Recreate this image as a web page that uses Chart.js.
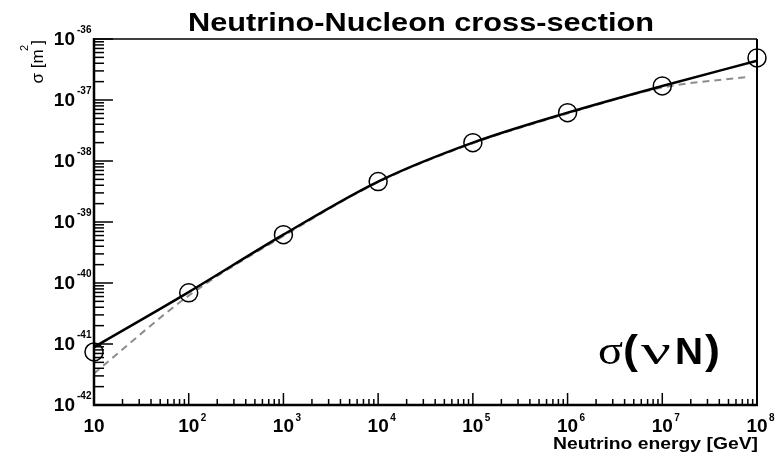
<!DOCTYPE html>
<html>
<head>
<meta charset="utf-8">
<script src="https://cdn.jsdelivr.net/npm/chart.js@4/dist/chart.umd.min.js"></script>
<style>
  body { margin: 0; background: #fff; }
  canvas { display: block; }
</style>
</head>
<body>
<canvas id="chart1" width="776" height="452"></canvas>
<script>
// neutrino energy [GeV] and sigma [m^2]
let energies = [10, 1e2, 1e3, 1e4, 1e5, 1e6, 1e7, 1e8];
let sigmaPoints = [7.4e-42, 6.9e-41, 6.2e-40, 4.6e-39, 2.0e-38, 6.2e-38, 1.7e-37, 4.9e-37];
let sigmaSolid = [8.9e-42, 7.1e-41, 6.2e-40, 4.6e-39, 2.0e-38, 6.2e-38, 1.7e-37, 4.4e-37];
let dashedEnergies = [10, 1e2, 1e3, 1e4, 1e5, 1e6, 1e7, 8e7];
let sigmaDashed = [3.3e-42, 6.2e-41, 5.9e-40, 4.5e-39, 1.95e-38, 6.0e-38, 1.6e-37, 2.4e-37];

let xTickExps = [1, 2, 3, 4, 5, 6, 7, 8];
let yTickExps = [-42, -41, -40, -39, -38, -37, -36];

function pairs(xs, ys) {
  return xs.map((x, i) => ({ x: x, y: ys[i] }));
}

const SANS = "'Liberation Sans', Arial, Helvetica, sans-serif";
const SERIF = "'Liberation Serif', 'Times New Roman', serif";

// draws text from its left edge x, stretched/squeezed to width w
function fitText(ctx, text, font, x, y, w) {
  ctx.save();
  ctx.font = font;
  ctx.textAlign = "left";
  let m = ctx.measureText(text).width;
  ctx.translate(x, y);
  ctx.scale(w / m, 1);
  ctx.fillText(text, 0, 0);
  ctx.restore();
}

// frame, inside ticks, 10^n labels and the texts around the plot
let rootFrame = {
  id: "rootFrame",
  afterDatasetsDraw(chart) {
    let ctx = chart.ctx;
    let a = chart.chartArea;
    let xs = chart.scales.x;
    let ys = chart.scales.y;
    ctx.save();
    ctx.strokeStyle = "#000";
    ctx.lineCap = "butt";

    // box
    ctx.lineWidth = 1.5;
    ctx.beginPath();
    ctx.moveTo(a.left, a.top);
    ctx.lineTo(a.right, a.top);
    ctx.stroke();
    ctx.lineWidth = 2;
    ctx.beginPath();
    ctx.moveTo(a.right, a.top);
    ctx.lineTo(a.right, a.bottom);
    ctx.stroke();
    ctx.lineWidth = 2.5;
    ctx.beginPath();
    ctx.moveTo(a.left, a.top - 1);
    ctx.lineTo(a.left, a.bottom);
    ctx.lineTo(a.right + 1, a.bottom);
    ctx.stroke();

    // y ticks
    ctx.lineWidth = 1.5;
    yTickExps.forEach((e) => {
      let py = ys.getPixelForValue(Math.pow(10, e));
      ctx.beginPath();
      ctx.moveTo(a.left, py);
      ctx.lineTo(a.left + 19, py);
      ctx.stroke();
      if (e < -36) {
        for (let k = 2; k <= 9; k++) {
          let my = ys.getPixelForValue(k * Math.pow(10, e));
          ctx.beginPath();
          ctx.moveTo(a.left, my);
          ctx.lineTo(a.left + 10, my);
          ctx.stroke();
        }
      }
    });

    // x ticks
    xTickExps.forEach((e) => {
      let px = xs.getPixelForValue(Math.pow(10, e));
      ctx.beginPath();
      ctx.moveTo(px, a.bottom);
      ctx.lineTo(px, a.bottom - 12);
      ctx.stroke();
      if (e < 8) {
        for (let k = 2; k <= 9; k++) {
          let mx = xs.getPixelForValue(k * Math.pow(10, e));
          ctx.beginPath();
          ctx.moveTo(mx, a.bottom);
          ctx.lineTo(mx, a.bottom - 6);
          ctx.stroke();
        }
      }
    });

    ctx.fillStyle = "#000";
    ctx.textBaseline = "middle";

    // y labels: 10 with exponent
    yTickExps.forEach((e) => {
      let py = ys.getPixelForValue(Math.pow(10, e));
      ctx.font = "bold 19px " + SANS;
      ctx.textAlign = "right";
      ctx.fillText("10", 75, py + 1);
      ctx.font = "bold 10px " + SANS;
      ctx.textAlign = "left";
      ctx.fillText(String(e), 77, py - 9);
    });

    // x labels
    xTickExps.forEach((e) => {
      let px = xs.getPixelForValue(Math.pow(10, e));
      ctx.font = "bold 19px " + SANS;
      ctx.textAlign = "center";
      ctx.fillText("10", px, 427);
      if (e > 1) {
        ctx.font = "bold 10px " + SANS;
        ctx.textAlign = "left";
        ctx.fillText(String(e), px + 12, 418);
      }
    });

    ctx.textBaseline = "alphabetic";

    // title
    fitText(ctx, "Neutrino-Nucleon cross-section", "bold 26px " + SANS, 188, 31, 466);

    // x axis title
    fitText(ctx, "Neutrino energy [GeV]", "bold 16px " + SANS, 553, 449, 205);

    // y axis title, rotated, ending at the top of the axis
    ctx.save();
    ctx.translate(43, 40);
    ctx.rotate(-Math.PI / 2);
    ctx.textAlign = "right";
    ctx.font = "17px " + SANS;
    ctx.fillText("\u03c3 [m ]", 0, 0);
    ctx.font = "11px " + SANS;
    ctx.fillText("2", -5, -15);
    ctx.restore();

    // sigma(nu N) label
    let parts = [
      ["\u03c3", "42px " + SERIF, 598, 25],
      ["(", "bold 40px " + SANS, 623, 15],
      ["\u03bd", "42px " + SERIF, 641, 30],
      ["N", "bold 37px " + SANS, 675, 28],
      [")", "bold 40px " + SANS, 705, 15],
    ];
    parts.forEach((p) => fitText(ctx, p[0], p[1], p[2], 364, p[3]));

    ctx.restore();
  },
};

let chart1 = document.getElementById("chart1");
let config1 = {
  type: "line",
  data: {
    datasets: [
      {
        label: "points",
        data: pairs(energies, sigmaPoints),
        showLine: false,
        pointStyle: "circle",
        pointRadius: 9,
        pointBorderWidth: 1.5,
        pointBorderColor: "#000",
        pointBackgroundColor: "rgba(0,0,0,0)",
        clip: false,
      },
      {
        label: "total",
        data: pairs(energies, sigmaSolid),
        borderColor: "#000",
        borderWidth: 2.5,
        pointRadius: 0,
        cubicInterpolationMode: "monotone",
        clip: false,
      },
      {
        label: "approx",
        data: pairs(dashedEnergies, sigmaDashed),
        borderColor: "#8c8c8c",
        borderWidth: 2,
        borderDash: [7, 5],
        pointRadius: 0,
        cubicInterpolationMode: "monotone",
        clip: false,
      },
    ],
  },
  options: {
    responsive: false,
    animation: false,
    layout: {
      padding: { left: 94, top: 39, right: 19, bottom: 47 },
    },
    scales: {
      x: { type: "logarithmic", min: 10, max: 1e8, display: false },
      y: { type: "logarithmic", min: 1e-42, max: 1e-36, display: false },
    },
    plugins: {
      legend: { display: false },
      tooltip: { enabled: false },
    },
  },
  plugins: [rootFrame],
};

let lineChart = new Chart(chart1, config1);
</script>
</body>
</html>
